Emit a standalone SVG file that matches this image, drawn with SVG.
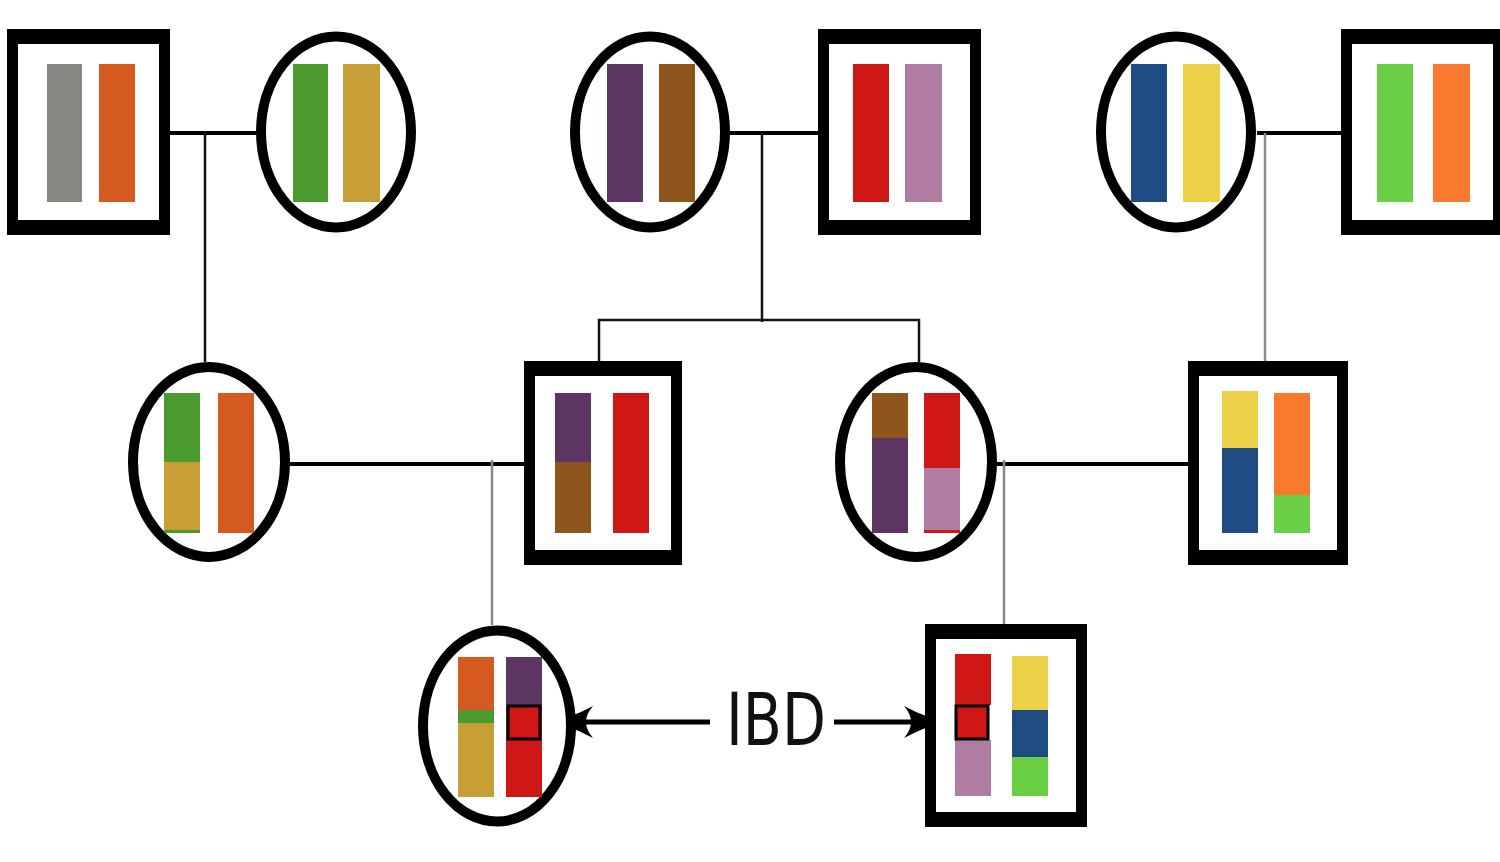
<svg xmlns="http://www.w3.org/2000/svg" width="1500" height="862" viewBox="0 0 1500 862">
<style>
.so{fill:#000}
.si{fill:#fff}
.el{fill:#fff;stroke:#000;stroke-width:10}
.cb{stroke:#000;stroke-width:4;fill:none}
.cv{stroke:#111;stroke-width:2.5;fill:none}
.cg{stroke:#8a8a8a;stroke-width:2.5;fill:none}
.ca{stroke:#000;stroke-width:5;fill:none}
.box{fill:#cf1716;stroke:#000;stroke-width:3}
.lbl{font-family:"DejaVu Sans",sans-serif;font-size:73px;fill:#111}
</style>
<defs>
<marker id="ah" markerUnits="userSpaceOnUse" viewBox="-46 -20 50 40" markerWidth="50" markerHeight="40" refX="0" refY="0" orient="auto" overflow="visible">
<path d="M -44,-16 Q -20,-3 1,0 Q -20,3 -44,16 Q -30,0 -44,-16 Z" fill="#000"/>
</marker>
</defs>
<rect width="1500" height="862" fill="#fff"/>
<g id="connectors">
<line class="cb" x1="170" y1="133" x2="256" y2="133"/>
<line class="cb" x1="730" y1="133" x2="818" y2="133"/>
<line class="cb" x1="1257" y1="133" x2="1341" y2="133"/>
<line class="cv" x1="205" y1="133" x2="205" y2="362"/>
<line class="cv" x1="762" y1="133" x2="762" y2="322"/>
<path class="cv" d="M599,362 V320 H919 V362"/>
<line class="cg" x1="1265" y1="133" x2="1265" y2="362"/>
<line class="cb" x1="290" y1="464" x2="524" y2="464"/>
<line class="cb" x1="996" y1="464" x2="1188" y2="464"/>
<line class="cg" x1="492" y1="460" x2="492" y2="625"/>
<line class="cg" x1="1004" y1="460" x2="1004" y2="625"/>
<line class="ca" x1="710" y1="722" x2="549" y2="722" marker-end="url(#ah)"/>
<line class="ca" x1="834" y1="722" x2="948" y2="722" marker-end="url(#ah)"/>
</g>
<g id="n1">
<rect class="so" x="7" y="29" width="163" height="206"/>
<rect class="si" x="18" y="44" width="141" height="176"/>
<rect x="47" y="64" width="35" height="138" fill="#868781"/>
<rect x="99" y="64" width="36" height="138" fill="#d45a20"/>
</g>
<g id="n2">
<ellipse class="el" cx="336" cy="132" rx="75" ry="95.5"/>
<rect x="293" y="64" width="35" height="138" fill="#4a9a30"/>
<rect x="343" y="64" width="37" height="138" fill="#c79d35"/>
</g>
<g id="n3">
<ellipse class="el" cx="650" cy="132" rx="75" ry="95.5"/>
<rect x="607" y="64" width="36" height="138" fill="#5d3562"/>
<rect x="659" y="64" width="36" height="138" fill="#8e561d"/>
</g>
<g id="n4">
<rect class="so" x="818" y="29" width="163" height="206"/>
<rect class="si" x="829" y="44" width="141" height="176"/>
<rect x="853" y="64" width="36" height="138" fill="#cf1716"/>
<rect x="905" y="64" width="37" height="138" fill="#af7ca4"/>
</g>
<g id="n5">
<ellipse class="el" cx="1176" cy="132" rx="75" ry="95.5"/>
<rect x="1131" y="64" width="36" height="138" fill="#1e4c82"/>
<rect x="1183" y="64" width="37" height="138" fill="#ecd048"/>
</g>
<g id="n6">
<rect class="so" x="1341" y="29" width="163" height="206"/>
<rect class="si" x="1352" y="44" width="141" height="176"/>
<rect x="1377" y="64" width="36" height="138" fill="#6bcf45"/>
<rect x="1433" y="64" width="37" height="138" fill="#f97a2e"/>
</g>
<g id="n7">
<ellipse class="el" cx="209" cy="462" rx="76" ry="95"/>
<rect x="164" y="393" width="36" height="140" fill="#4a9a30"/>
<rect x="164" y="462" width="36" height="68" fill="#c79d35"/>
<rect x="218" y="393" width="36" height="140" fill="#d45a20"/>
</g>
<g id="n8">
<rect class="so" x="524" y="361" width="158" height="204"/>
<rect class="si" x="535" y="376" width="136" height="174"/>
<rect x="555" y="393" width="36" height="69" fill="#5d3562"/>
<rect x="555" y="462" width="36" height="71" fill="#8e561d"/>
<rect x="613" y="393" width="36" height="140" fill="#cf1716"/>
</g>
<g id="n9">
<ellipse class="el" cx="916" cy="462" rx="76" ry="95"/>
<rect x="872" y="393" width="36" height="45" fill="#8e561d"/>
<rect x="872" y="438" width="36" height="95" fill="#5d3562"/>
<rect x="924" y="393" width="36" height="140" fill="#cf1716"/>
<rect x="924" y="468" width="36" height="62" fill="#af7ca4"/>
</g>
<g id="n10">
<rect class="so" x="1188" y="361" width="160" height="204"/>
<rect class="si" x="1199" y="376" width="138" height="174"/>
<rect x="1222" y="391" width="36" height="57" fill="#ecd048"/>
<rect x="1222" y="448" width="36" height="85" fill="#1e4c82"/>
<rect x="1274" y="393" width="36" height="102" fill="#f97a2e"/>
<rect x="1274" y="495" width="36" height="38" fill="#6bcf45"/>
</g>
<g id="n11">
<ellipse class="el" cx="497" cy="726" rx="74" ry="95.5"/>
<rect x="458" y="657" width="36" height="53" fill="#d45a20"/>
<rect x="458" y="710" width="36" height="13" fill="#4a9a30"/>
<rect x="458" y="723" width="36" height="74" fill="#c79d35"/>
<rect x="506" y="657" width="36" height="48" fill="#5d3562"/>
<rect x="506" y="705" width="36" height="92" fill="#cf1716"/>
<rect class="box" x="508" y="706" width="32" height="33"/>
</g>
<g id="n12">
<rect class="so" x="925" y="624" width="162" height="203"/>
<rect class="si" x="936" y="639" width="140" height="173"/>
<rect x="955" y="654" width="36" height="51" fill="#cf1716"/>
<rect x="955" y="740" width="36" height="56" fill="#af7ca4"/>
<rect class="box" x="956" y="706" width="32" height="33"/>
<rect x="1012" y="656" width="36" height="54" fill="#ecd048"/>
<rect x="1012" y="710" width="36" height="47" fill="#1e4c82"/>
<rect x="1012" y="757" width="36" height="39" fill="#6bcf45"/>
</g>
<g id="label">
<text class="lbl" x="726" y="745" textLength="100" lengthAdjust="spacingAndGlyphs">IBD</text>
</g>
</svg>
